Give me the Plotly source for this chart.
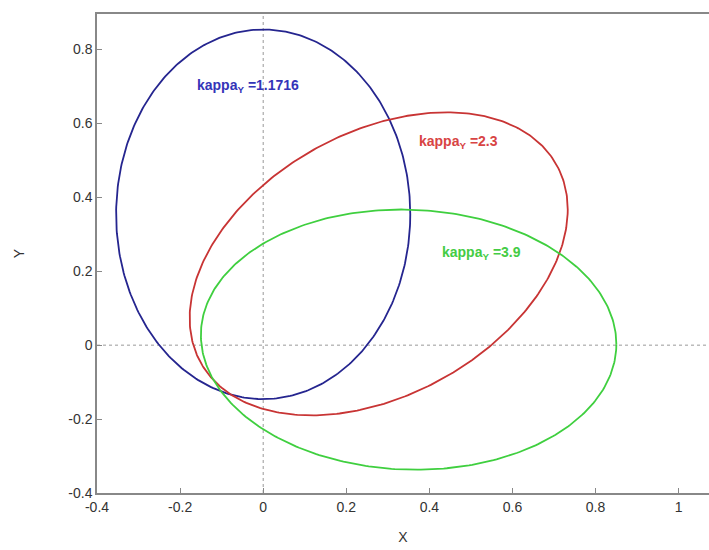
import numpy as np
import plotly.graph_objects as go

# Ellipse parameters
labels = ["kappa<sub>Y</sub> =1.1716", "kappa<sub>Y</sub> =2.3", "kappa<sub>Y</sub> =3.9"]
center_x = [0.0, 0.278, 0.35]
center_y = [0.354, 0.22, 0.015]
half_width = [0.354, 0.455, 0.50]
half_height = [0.50, 0.41, 0.352]
phase_deg = [90.0, 69.0, 92.0]
label_x = [-0.165, 0.37, 0.425]
label_y = [0.70, 0.551, 0.25]
line_colors = ["#25258f", "#c83434", "#3fcf3f"]
text_colors = ["#3434b8", "#d84444", "#44cc44"]

x_ticks = [-0.4, -0.2, 0, 0.2, 0.4, 0.6, 0.8, 1]
x_tick_text = ["-0.4", "-0.2", "0", "0.2", "0.4", "0.6", "0.8", "1"]
y_ticks = [-0.4, -0.2, 0, 0.2, 0.4, 0.6, 0.8]
y_tick_text = ["-0.4", "-0.2", "0", "0.2", "0.4", "0.6", "0.8"]

fig = go.Figure()
t = np.linspace(0, 2 * np.pi, 400)
for cx, cy, rx, ry, ph, col in zip(center_x, center_y, half_width, half_height, phase_deg, line_colors):
    xs = cx + rx * np.cos(t)
    ys = cy + ry * np.cos(t - np.radians(ph))
    fig.add_trace(go.Scatter(x=xs, y=ys, mode="lines", line=dict(color=col, width=1.8),
                             showlegend=False, hoverinfo="skip"))

# dotted zero lines
fig.add_shape(type="line", x0=0, x1=0, y0=0, y1=1, xref="x", yref="paper",
              line=dict(color="#999999", width=1, dash="dot"), layer="below")
fig.add_shape(type="line", x0=0, x1=1, y0=0, y1=0, xref="paper", yref="y",
              line=dict(color="#999999", width=1, dash="dot"), layer="below")

for lx, ly, txt, col in zip(label_x, label_y, labels, text_colors):
    fig.add_annotation(x=lx, y=ly, text="<b>" + txt + "</b>", showarrow=False,
                       xanchor="left", yanchor="middle",
                       font=dict(family="Liberation Sans, Arial", size=14, color=col))

axis_font = dict(family="Liberation Sans, Arial", size=14, color="#333333")
fig.update_layout(
    width=709, height=550,
    margin=dict(l=97, r=0, t=14, b=57, autoexpand=False),
    paper_bgcolor="white", plot_bgcolor="white",
    xaxis=dict(range=[-0.4, 1.073], tickvals=x_ticks, ticktext=x_tick_text,
               showgrid=False, zeroline=False, showline=True, mirror=True,
               linecolor="#888888", linewidth=1.5, ticks="inside", ticklen=5,
               tickcolor="#888888", tickfont=axis_font, automargin=False,
               title=dict(text="X", font=axis_font, standoff=19)),
    yaxis=dict(range=[-0.4, 0.896], tickvals=y_ticks, ticktext=y_tick_text,
               showgrid=False, zeroline=False, showline=True, mirror=False,
               linecolor="#888888", linewidth=1.5, ticks="inside", ticklen=5,
               tickcolor="#888888", tickfont=axis_font, automargin=False,
               title=dict(text="Y", font=axis_font, standoff=40)),
)
fig.write_html("out.html", config={"displayModeBar": False},
               post_script="document.body.style.margin='0';document.body.style.overflow='hidden';")
